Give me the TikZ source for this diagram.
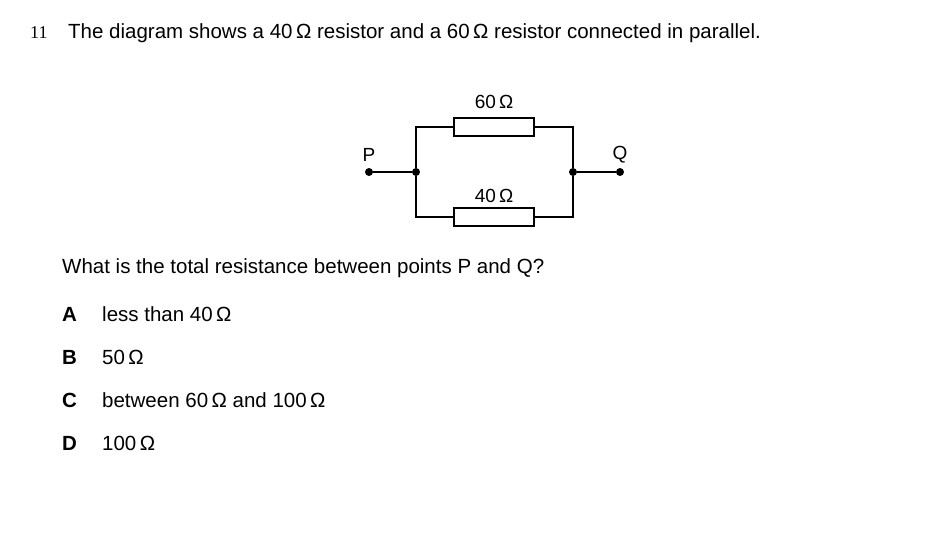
\documentclass[tikz,border=0pt]{standalone}
\usepackage{fontspec}
\setmainfont{Liberation Sans}
\newfontfamily\serifnum{Liberation Serif}
\begin{document}
\begin{tikzpicture}[x=1pt,y=-1pt,
  txt/.style={anchor=west,inner sep=0pt,font=\fontsize{20.5}{24}\selectfont},
  bl/.style={anchor=west,inner sep=0pt,font=\bfseries\fontsize{20.5}{24}\selectfont},
  lbl/.style={inner sep=0pt,font=\fontsize{19}{22}\selectfont},
  res/.style={draw,line width=1.2pt,minimum width=80pt,minimum height=18pt,inner sep=0pt,fill=white},
  dot/.style={circle,fill,inner sep=0pt,minimum size=8pt},
  wire/.style={line width=1.2pt}]
\useasboundingbox (0,0) rectangle (952,535);
\node[txt,font=\serifnum\fontsize{18}{22}\selectfont] (n) at (30,33) {11};
\node[txt] (t) at (68,33) {The diagram shows a 40\,Ω resistor and a 60\,Ω resistor connected in parallel.};
\node[dot] (P) at (369,172) {};
\node[dot] (L) at (416,172) {};
\node[dot] (R) at (573,172) {};
\node[dot] (Q) at (620,172) {};
\node[res] (r1) at (494,127) {};
\node[res] (r2) at (494,217) {};
\draw[wire] (P) -- (L) -- (416,127) -- (r1.west);
\draw[wire] (r1.east) -- (573,127) -- (R) -- (Q);
\draw[wire] (L) |- (r2.west);
\draw[wire] (r2.east) -| (R);
\node[lbl] (l1) at (494,102) {60\,Ω};
\node[lbl] (l2) at (494,196) {40\,Ω};
\node[lbl] (lp) at (369,155) {P};
\node[lbl] (lq) at (620,155) {Q};
\node[txt] (q) at (62,268) {What is the total resistance between points P and Q?};
\node[bl] (A) at (62,314) {A};
\node[txt] (a) at (102,314) {less than 40\,Ω};
\node[bl] (B) at (62,357) {B};
\node[txt] (b) at (102,357) {50\,Ω};
\node[bl] (C) at (62,400) {C};
\node[txt] (c) at (102,400) {between 60\,Ω and 100\,Ω};
\node[bl] (D) at (62,443) {D};
\node[txt] (d) at (102,443) {100\,Ω};
\end{tikzpicture}
\end{document}
